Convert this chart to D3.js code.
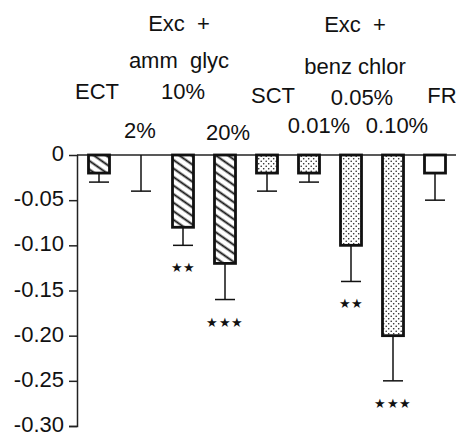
<!DOCTYPE html>
<html>
<head>
<meta charset="utf-8">
<script src="https://cdn.jsdelivr.net/npm/d3@7"></script>
<style>
  body { margin: 0; background: #fff; }
  text { font-family: "Liberation Sans", Arial, sans-serif; fill: #111; }
</style>
</head>
<body>
<script>
// data
const categories = ["ECT", "2%", "10%", "20%", "SCT", "0.01%", "0.05%", "0.10%", "FR"];
const means = [-0.02, 0, -0.08, -0.12, -0.02, -0.02, -0.10, -0.20, -0.02];
const errors = [0.01, 0.04, 0.02, 0.04, 0.02, 0.01, 0.04, 0.05, 0.03];
const fills = ["hatch", "hatch", "hatch", "hatch", "dots", "dots", "dots", "dots", "none"];
const stars = ["", "", "**", "***", "", "", "**", "***", ""];
const groupHeads = [["Exc  +", "amm  glyc"], ["Exc  +", "benz chlor"]];
const yTicks = [0, -0.05, -0.10, -0.15, -0.20, -0.25, -0.30];

// layout
const width = 456, height = 434;
const labelLayout = [
  { dx: -2, y: 99 }, { dx: -1, y: 138 }, { dx: 0, y: 99 }, { dx: 3, y: 140 },
  { dx: 6, y: 103 }, { dx: 10, y: 133 }, { dx: 11, y: 105 }, { dx: 4, y: 133 }, { dx: 7, y: 103 }
];
const headLayout = [
  { cat: "10%", dx: -4, ys: [31, 68] },
  { cat: "0.05%", dx: 4, ys: [32, 74] }
];

const svg = d3.select("body").append("svg")
  .attr("width", width).attr("height", height);

// patterns
const defs = svg.append("defs");
const hatch = defs.append("pattern").attr("id", "hatch")
  .attr("patternUnits", "userSpaceOnUse").attr("width", 10).attr("height", 7)
  .attr("patternTransform", "rotate(35)");
hatch.append("rect").attr("width", 10).attr("height", 7).attr("fill", "#fff");
hatch.append("line").attr("x1", -1).attr("x2", 11).attr("y1", 3.5).attr("y2", 3.5)
  .attr("stroke", "#111").attr("stroke-width", 1.9);
const dots = defs.append("pattern").attr("id", "dots")
  .attr("patternUnits", "userSpaceOnUse").attr("width", 5).attr("height", 5);
dots.append("rect").attr("width", 5).attr("height", 5).attr("fill", "#fff");
dots.append("circle").attr("cx", 1.2).attr("cy", 1.2).attr("r", 0.8).attr("fill", "#222");
dots.append("circle").attr("cx", 3.7).attr("cy", 3.7).attr("r", 0.8).attr("fill", "#222");

// scales
const x = d3.scaleBand().domain(categories).range([78, 456]).paddingInner(0.5).paddingOuter(0.25);
const y = d3.scaleLinear().domain([-0.30, 0]).range([426, 155]);
const cx = d => x(d) + x.bandwidth() / 2;

// y axis
const yAxis = svg.append("g").attr("transform", "translate(77,0)")
  .call(d3.axisLeft(y).tickValues(yTicks).tickSize(8).tickPadding(5)
    .tickFormat(d => d === 0 ? "0" : d3.format(".2f")(d).replace("\u2212", "-")));
yAxis.select(".domain").attr("stroke", "#222").attr("stroke-width", 1.5);
yAxis.selectAll(".tick line").attr("stroke", "#222").attr("stroke-width", 1.5);
yAxis.selectAll(".tick text").attr("font-size", 22).attr("fill", "#111").attr("dy", "0.25em")
  .attr("font-family", "Liberation Sans, Arial, sans-serif");
yAxis.selectAll(".tick").filter(d => d === 0).select("line").remove();

// zero line
svg.append("line").attr("x1", 77).attr("x2", width).attr("y1", y(0)).attr("y2", y(0))
  .attr("stroke", "#222").attr("stroke-width", 1.5);

const rows = categories.map((c, i) => ({ c, m: means[i], e: errors[i], f: fills[i], s: stars[i] }));

// error bars
const eb = svg.append("g").attr("stroke", "#111").attr("stroke-width", 1.5);
eb.selectAll(".stem").data(rows).join("line")
  .attr("x1", d => cx(d.c)).attr("x2", d => cx(d.c))
  .attr("y1", d => y(d.m)).attr("y2", d => y(d.m - d.e));
eb.selectAll(".cap").data(rows).join("line")
  .attr("x1", d => cx(d.c) - 10).attr("x2", d => cx(d.c) + 10)
  .attr("y1", d => y(d.m - d.e)).attr("y2", d => y(d.m - d.e));

// bars
svg.append("g").selectAll("rect").data(rows.filter(d => d.m < 0)).join("rect")
  .attr("x", d => x(d.c)).attr("width", x.bandwidth())
  .attr("y", y(0)).attr("height", d => y(d.m) - y(0))
  .attr("fill", d => d.f === "none" ? "#fff" : `url(#${d.f})`)
  .attr("stroke", "#111").attr("stroke-width", 2.8);

// significance stars
svg.append("g").selectAll("text").data(rows.filter(d => d.s)).join("text")
  .attr("x", d => cx(d.c)).attr("y", d => y(d.m - d.e) + 27)
  .attr("text-anchor", "middle").attr("font-size", 13)
  .attr("font-family", "DejaVu Sans").attr("letter-spacing", 0.5)
  .text(d => d.s.replace(/\*/g, "\u2605"));

// category labels
svg.append("g").selectAll("text").data(categories).join("text")
  .attr("x", (d, i) => cx(d) + labelLayout[i].dx)
  .attr("y", (d, i) => labelLayout[i].y)
  .attr("text-anchor", "middle").attr("font-size", 22)
  .text(d => d);

// group headings
headLayout.forEach((h, gi) => {
  groupHeads[gi].forEach((t, li) => {
    svg.append("text").attr("x", cx(h.cat) + h.dx).attr("y", h.ys[li])
      .attr("text-anchor", "middle").attr("font-size", 22)
      .style("white-space", "pre").text(t);
  });
});
</script>
</body>
</html>
